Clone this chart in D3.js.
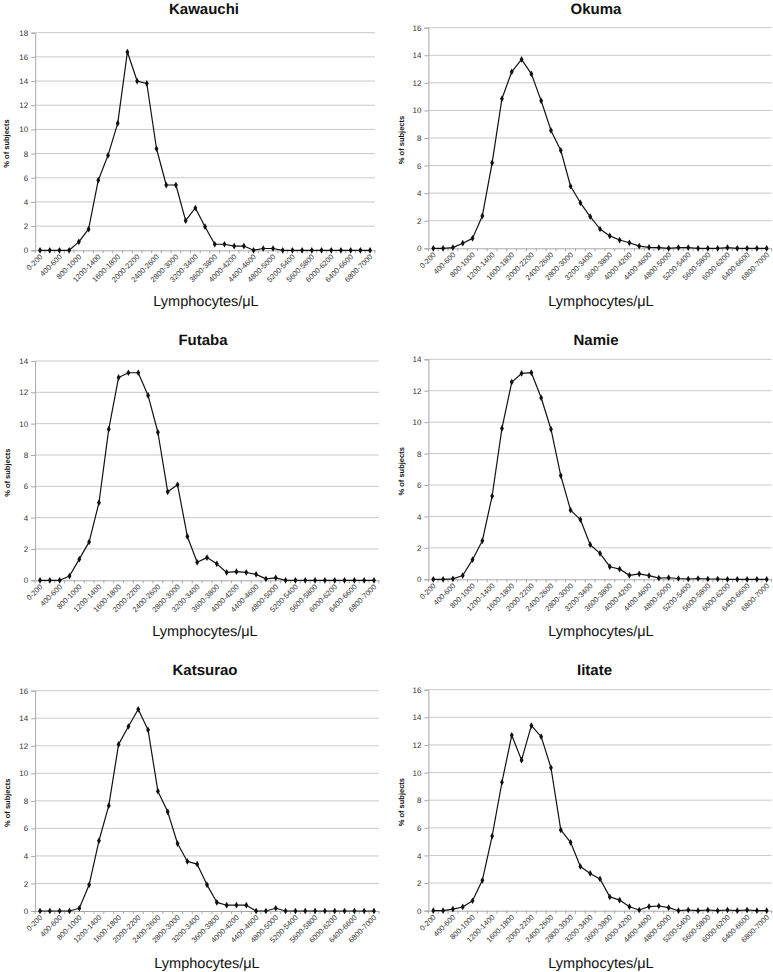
<!DOCTYPE html>
<html>
<head>
<meta charset="utf-8">
<script src="https://cdn.jsdelivr.net/npm/d3@7"></script>
<style>
  html, body { margin: 0; padding: 0; background: #fff; }
  svg { display: block; }
  text { text-rendering: geometricPrecision; }
</style>
</head>
<body>
<svg id="chart" width="773" height="972"></svg>
<script>
// ---- Data ----
const categories = [
  "0-200","200-400","400-600","600-800","800-1000","1000-1200","1200-1400","1400-1600",
  "1600-1800","1800-2000","2000-2200","2200-2400","2400-2600","2600-2800","2800-3000",
  "3000-3200","3200-3400","3400-3600","3600-3800","3800-4000","4000-4200","4200-4400",
  "4400-4600","4600-4800","4800-5000","5000-5200","5200-5400","5400-5600","5600-5800",
  "5800-6000","6000-6200","6200-6400","6400-6600","6600-6800","6800-7000"
];
const towns = ["Kawauchi", "Okuma", "Futaba", "Namie", "Katsurao", "Iitate"];

const kawauchi = [0,0,0,0,0.7,1.75,5.8,7.85,10.5,16.4,14.0,13.8,8.4,5.4,5.4,2.45,3.5,1.95,0.5,0.5,0.35,0.35,0,0.15,0.15,0,0,0,0,0,0,0,0,0,0];
const okuma    = [0,0,0.05,0.37,0.72,2.35,6.2,10.85,12.8,13.7,12.65,10.7,8.55,7.1,4.5,3.3,2.3,1.4,0.9,0.6,0.4,0.16,0.07,0.05,0,0.05,0.05,0,0,0,0.05,0,0,0,0];
const futaba   = [0,0,0,0.27,1.35,2.45,4.95,9.65,12.95,13.25,13.25,11.8,9.45,5.65,6.1,2.8,1.15,1.45,1.05,0.5,0.55,0.5,0.38,0.09,0.16,0,0,0,0,0,0,0,0,0,0];
const namie    = [0,0,0.03,0.24,1.25,2.45,5.3,9.6,12.55,13.1,13.15,11.55,9.55,6.6,4.4,3.8,2.2,1.65,0.8,0.65,0.25,0.35,0.23,0.08,0.1,0.05,0.02,0.05,0.02,0.02,0,0,0,0,0];
const katsurao = [0,0,0,0,0.2,1.9,5.1,7.65,12.1,13.4,14.65,13.15,8.7,7.2,4.9,3.6,3.4,1.9,0.63,0.42,0.42,0.42,0,0,0.2,0,0,0,0,0,0,0,0,0,0];
const iitate   = [0,0,0.12,0.27,0.72,2.2,5.4,9.3,12.7,10.9,13.4,12.6,10.35,5.85,4.95,3.2,2.7,2.3,1.0,0.77,0.29,0.05,0.3,0.34,0.22,0,0.05,0,0.05,0,0.05,0,0.05,0,0];

const yMaxes = [18, 16, 14, 14, 16, 16];
const yTickStep = 2;
const xTitle = "Lymphocytes/\u03BCL";
const yTitle = "% of subjects";

const seriesList = [kawauchi, okuma, futaba, namie, katsurao, iitate];

// ---- Layout (pixel geometry of each panel) ----
const panels = [
  {left: 35.2, right: 374.9, top: 32.7, bottom: 250.3, titleX: 204, titleY: 13.8, xTitleX: 206, xTitleY: 306, yLabX: 6},
  {left: 428.4, right: 771.6, top: 27.7, bottom: 248.3, titleX: 596, titleY: 13.8, xTitleX: 601, xTitleY: 306, yLabX: 401},
  {left: 35.1, right: 378.9, top: 361, bottom: 580.3, titleX: 203, titleY: 344.7, xTitleX: 205, xTitleY: 636, yLabX: 7},
  {left: 428.4, right: 771.6, top: 359.3, bottom: 579.3, titleX: 596, titleY: 344.7, xTitleX: 601, xTitleY: 636, yLabX: 401},
  {left: 35.1, right: 378.9, top: 690.7, bottom: 911, titleX: 205, titleY: 675.4, xTitleX: 207, xTitleY: 967.5, yLabX: 7},
  {left: 428.4, right: 771.6, top: 689.7, bottom: 910.7, titleX: 594.5, titleY: 675.4, xTitleX: 601, xTitleY: 967.5, yLabX: 401}
];

const svg = d3.select("#chart");
const FONT = "'Liberation Sans', Arial, Helvetica, sans-serif";

panels.forEach((p, i) => {
  const data = seriesList[i];
  const yMax = yMaxes[i];
  const x = d3.scaleBand().domain(categories).range([p.left, p.right]).padding(0);
  const y = d3.scaleLinear().domain([0, yMax]).range([p.bottom, p.top]);
  const yTicks = d3.range(0, yMax + 0.001, yTickStep);

  const g = svg.append("g");

  // gridlines
  g.selectAll("line.grid").data(yTicks.filter(t => t > 0)).enter().append("line")
    .attr("x1", p.left).attr("x2", p.right)
    .attr("y1", d => y(d)).attr("y2", d => y(d))
    .attr("stroke", "#c9c9c9").attr("stroke-width", 1);

  // y axis
  const yAxis = d3.axisLeft(y).tickValues(yTicks).tickSize(4).tickPadding(3).tickFormat(d3.format("d"));
  const ya = g.append("g").attr("transform", `translate(${p.left},0)`).call(yAxis);
  ya.select(".domain").attr("stroke", "#a8a8a8");
  ya.selectAll(".tick line").attr("stroke", "#a8a8a8");
  ya.selectAll(".tick text").attr("font-family", FONT).attr("font-size", "8px").attr("fill", "#333");

  // x axis
  const xAxis = d3.axisBottom(x).tickSize(0).tickFormat((d, k) => k % 2 === 0 ? d : "");
  const xa = g.append("g").attr("transform", `translate(0,${p.bottom})`).call(xAxis);
  xa.select(".domain").attr("stroke", "#a8a8a8");
  xa.selectAll(".tick text")
    .attr("font-family", FONT).attr("font-size", "7.5px").attr("fill", "#333")
    .attr("text-anchor", "end")
    .attr("dy", null)
    .attr("y", 0)
    .attr("transform", "translate(3,7) rotate(-45)");
  // small tick marks at category boundaries
  g.selectAll("line.xt").data(categories.concat(["__end"])).enter().append("line")
    .attr("x1", (d, k) => p.left + k * x.bandwidth())
    .attr("x2", (d, k) => p.left + k * x.bandwidth())
    .attr("y1", p.bottom).attr("y2", p.bottom + 3)
    .attr("stroke", "#a8a8a8").attr("stroke-width", 1);

  // line
  const line = d3.line()
    .x((d, k) => x(categories[k]) + x.bandwidth() / 2)
    .y(d => y(d));
  g.append("path").datum(data)
    .attr("d", line)
    .attr("fill", "none")
    .attr("stroke", "#111")
    .attr("stroke-width", 1.2)
    .attr("stroke-linejoin", "round");

  // markers
  const sym = d3.symbol().type(d3.symbolDiamond).size(13);
  g.selectAll("path.mk").data(data).enter().append("path")
    .attr("d", sym)
    .attr("transform", (d, k) => `translate(${x(categories[k]) + x.bandwidth() / 2},${y(d)})`)
    .attr("fill", "#111");

  // title
  g.append("text")
    .attr("x", p.titleX).attr("y", p.titleY)
    .attr("text-anchor", "middle")
    .attr("font-family", FONT).attr("font-weight", "bold").attr("font-size", "15px")
    .attr("fill", "#111")
    .text(towns[i]);

  // x title
  g.append("text")
    .attr("x", p.xTitleX).attr("y", p.xTitleY)
    .attr("text-anchor", "middle")
    .attr("font-family", FONT).attr("font-size", "14.5px")
    .attr("fill", "#111")
    .text(xTitle);

  // y title
  const yc = (p.top + p.bottom) / 2 + 2;
  g.append("text")
    .attr("transform", `translate(${p.yLabX + 3},${yc}) rotate(-90)`)
    .attr("text-anchor", "middle")
    .attr("font-family", FONT).attr("font-weight", "bold").attr("font-size", "7.5px")
    .attr("fill", "#111")
    .text(yTitle);
});
</script>
</body>
</html>
